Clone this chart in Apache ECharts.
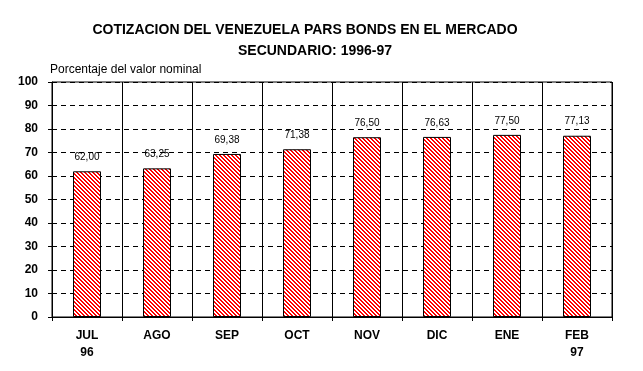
<!DOCTYPE html>
<html>
<head>
<meta charset="utf-8">
<script src="https://cdn.jsdelivr.net/npm/echarts@6/dist/echarts.min.js"></script>
<style>
html,body{margin:0;padding:0;background:#fff;}
#chart{width:643px;height:371px;}
</style>
</head>
<body>
<div id="chart"></div>
<script>
var categories = ['JUL\n96', 'AGO', 'SEP', 'OCT', 'NOV', 'DIC', 'ENE', 'FEB\n97'];
var values = [62.00, 63.25, 69.38, 71.38, 76.50, 76.63, 77.50, 77.13];
var titleLine1 = 'COTIZACION DEL VENEZUELA PARS BONDS EN EL MERCADO';
var titleLine2 = 'SECUNDARIO: 1996-97';
var yAxisName = 'Porcentaje del valor nominal';

var FONT = '"Liberation Sans", Arial, sans-serif';

// hatch pattern: red diagonal stripes on white
var pc = document.createElement('canvas');
pc.width = 4; pc.height = 4;
var pctx = pc.getContext('2d');
pctx.fillStyle = '#ffffff';
pctx.fillRect(0, 0, 4, 4);
pctx.fillStyle = '#ff0000';
for (var py = 0; py < 4; py++) {
  for (var px = 0; px < 4; px++) {
    if ((((px - py) % 4) + 4) % 4 < 2) pctx.fillRect(px, py, 1, 1);
  }
}

var chart = echarts.init(document.getElementById('chart'), null, {renderer: 'canvas'});
chart.setOption({
  animation: false,
  backgroundColor: '#ffffff',
  title: [
    {text: titleLine1, left: 300, top: 18, textAlign: 'center',
     textStyle: {fontFamily: FONT, fontSize: 14, fontWeight: 'bold', color: '#000'}},
    {text: titleLine2, left: 310, top: 39, textAlign: 'center',
     textStyle: {fontFamily: FONT, fontSize: 14, fontWeight: 'bold', color: '#000'}}
  ],
  graphic: [
    {type: 'text', left: 50, top: 64,
     style: {text: yAxisName, font: '12px ' + FONT, fill: '#000'}}
  ],
  grid: {left: 52, right: 31, top: 82, bottom: 54, show: true,
         borderColor: '#000', borderWidth: 1, backgroundColor: 'transparent'},
  xAxis: {
    type: 'category',
    data: categories,
    boundaryGap: true,
    axisLine: {show: true, lineStyle: {color: '#000', width: 1}},
    axisTick: {show: true, length: 4, lineStyle: {color: '#000'}, alignWithLabel: false},
    splitLine: {show: true, lineStyle: {color: '#000', width: 1, type: 'solid'}},
    axisLabel: {fontFamily: FONT, fontSize: 12, fontWeight: 'bold', color: '#000',
                margin: 10, lineHeight: 17, interval: 0}
  },
  yAxis: {
    type: 'value',
    min: 0, max: 100, interval: 10,
    axisLine: {show: true, lineStyle: {color: '#000', width: 1}},
    axisTick: {show: true, length: 4, lineStyle: {color: '#000'}},
    splitLine: {show: true, lineStyle: {color: '#000', width: 1, type: [5, 4]}},
    axisLabel: {fontFamily: FONT, fontSize: 12, fontWeight: 'bold', color: '#000', margin: 14}
  },
  series: [{
    type: 'bar',
    data: values,
    barWidth: 28,
    itemStyle: {
      color: {image: pc, repeat: 'repeat'},
      borderColor: '#000',
      borderWidth: 1
    },
    label: {
      show: true,
      position: 'top',
      distance: 9,
      fontFamily: FONT,
      fontSize: 10,
      color: '#000',
      formatter: function (p) { return p.value.toFixed(2).replace('.', ','); }
    }
  }]
});
</script>
</body>
</html>
